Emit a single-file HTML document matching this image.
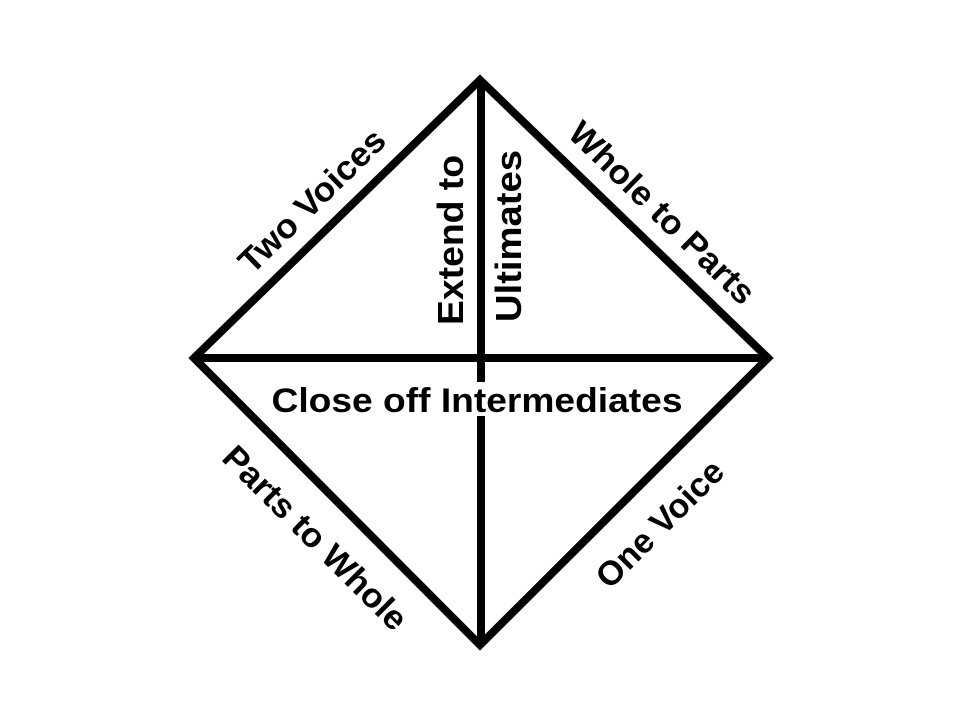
<!DOCTYPE html>
<html><head><meta charset="utf-8"><style>
html,body{margin:0;padding:0;background:#fff;}
svg{display:block;}
text{font-family:"Liberation Sans",sans-serif;font-weight:bold;fill:#000;}
</style></head><body>
<svg width="960" height="720" viewBox="0 0 960 720" xmlns="http://www.w3.org/2000/svg">
<rect width="960" height="720" fill="#fff"/>
<g stroke="#000" stroke-width="8" fill="none" stroke-linejoin="miter">
<polygon points="480,80 768,358 480,645 194,358"/>
<line x1="194" y1="358" x2="768" y2="358"/>
<line x1="481" y1="80" x2="481" y2="645"/>
</g>
<rect x="470" y="382" width="22" height="34" fill="#fff"/>
<text x="477" y="412" font-size="34" text-anchor="middle" textLength="411" lengthAdjust="spacingAndGlyphs">Close off Intermediates</text>
<text transform="translate(463,240) rotate(-90)" font-size="36" text-anchor="middle" textLength="170" lengthAdjust="spacingAndGlyphs">Extend to</text>
<text transform="translate(521,236) rotate(-90)" font-size="36" text-anchor="middle" textLength="172" lengthAdjust="spacingAndGlyphs">Ultimates</text>
<text transform="translate(320,209) rotate(-44.3)" font-size="34" text-anchor="middle" textLength="190" lengthAdjust="spacingAndGlyphs">Two Voices</text>
<text transform="translate(654,221) rotate(44.3)" font-size="34" text-anchor="middle" textLength="245" lengthAdjust="spacingAndGlyphs">Whole to Parts</text>
<text transform="translate(307,546) rotate(45)" font-size="34" text-anchor="middle" textLength="245" lengthAdjust="spacingAndGlyphs">Parts to Whole</text>
<text transform="translate(668,532) rotate(-45)" font-size="34" text-anchor="middle" textLength="165" lengthAdjust="spacingAndGlyphs">One Voice</text>
</svg>
</body></html>
